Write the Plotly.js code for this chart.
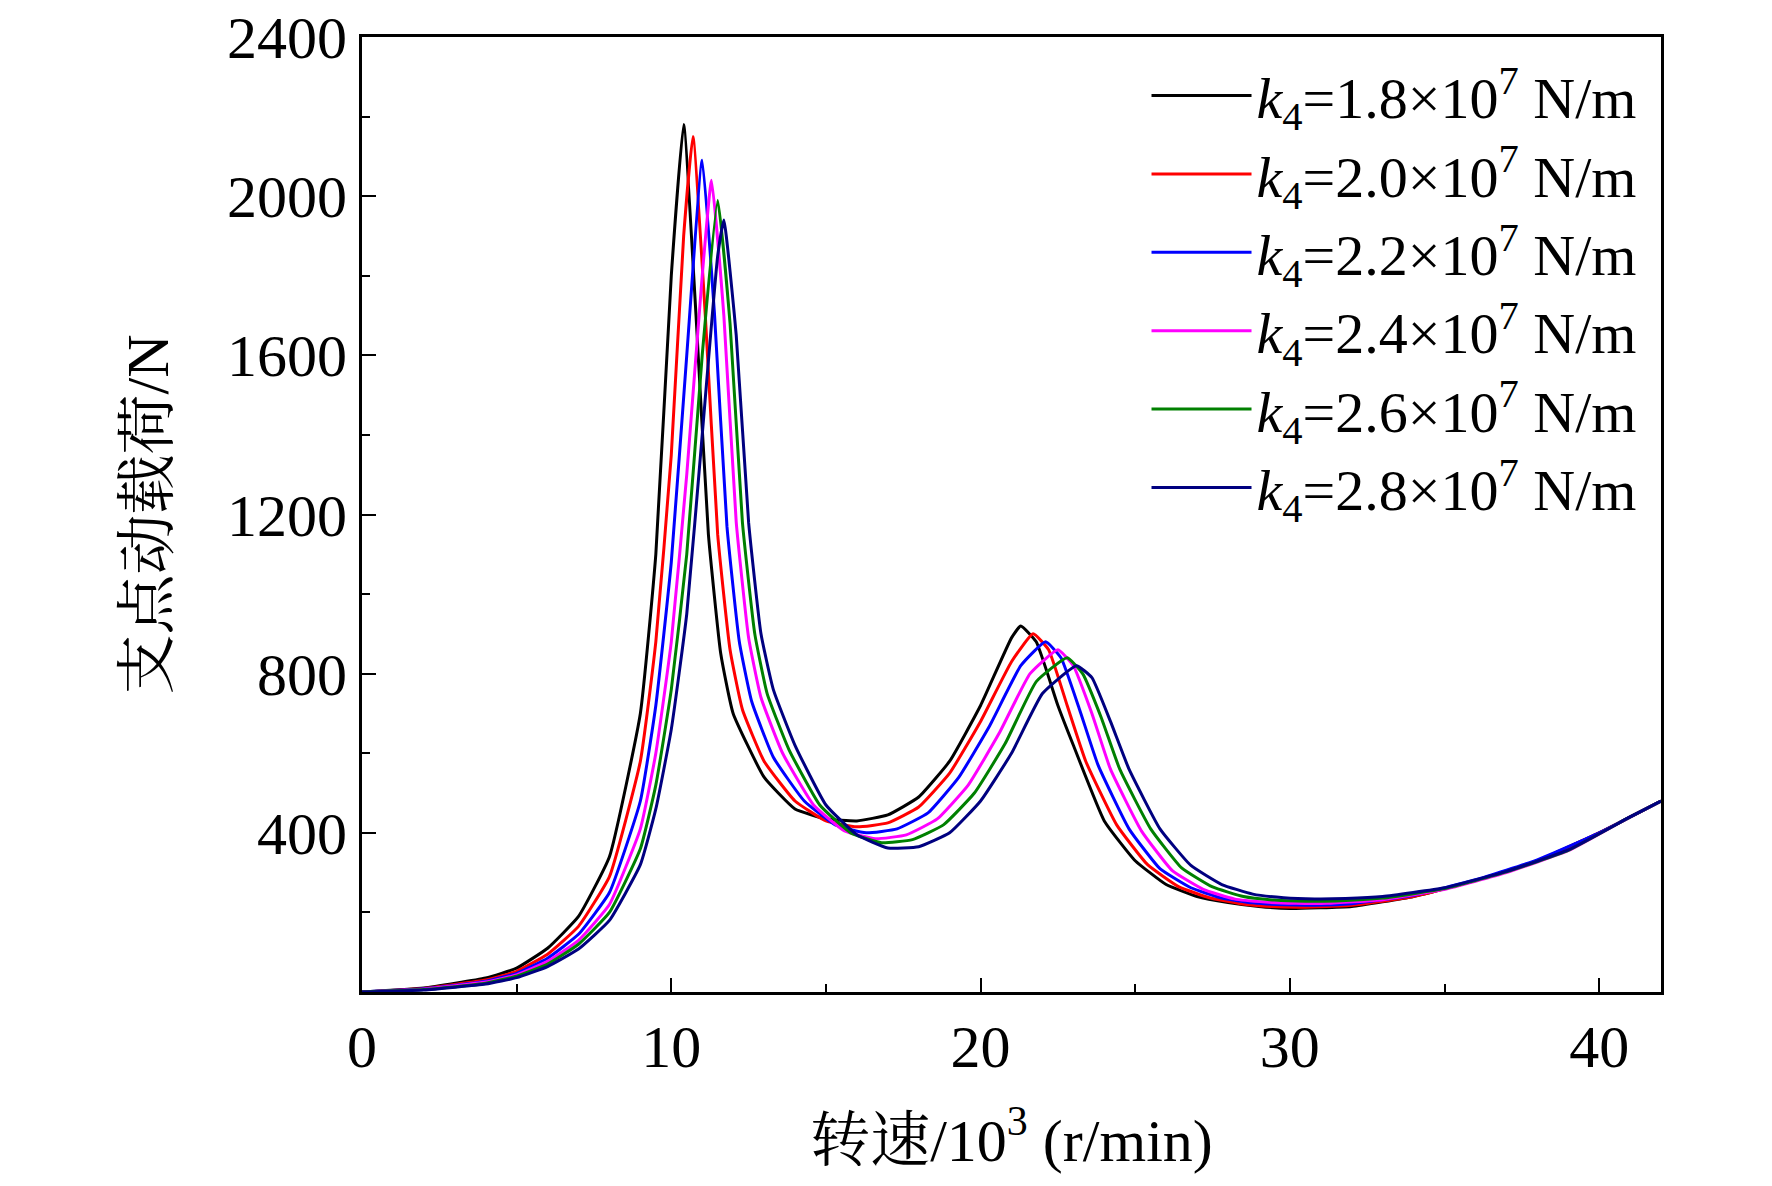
<!DOCTYPE html>
<html>
<head>
<meta charset="utf-8">
<script src="https://cdn.plot.ly/plotly-3.0.1.min.js"></script>
<style>body{margin:0;background:#fff}#plot{width:1772px;height:1186px}</style>
</head>
<body>
<div id="plot"></div>
<script>
var names = ['1.8', '2.0', '2.2', '2.4', '2.6', '2.8'];
var colors = ['#000000', '#ff0000', '#0000ff', '#ff00ff', '#008000', '#000080'];

var x1 = [0,2,4,5,6,7,8,9,9.5,10,10.4,10.8,11.2,11.6,12,13,14,15,16,17,18,19,20,21,21.3,21.8,22.5,23,24,25,26,27,28,29,30,32,34,36,38,40,42];
var y1 = [0,10,35,60,110,190,340,700,1100,1800,2180,1700,1150,850,700,540,460,435,430,445,490,580,720,890,920,880,720,620,430,330,270,240,225,215,210,215,240,280,330,400,480];

var x2 = [0,2,4,5,6,7,8,9,9.5,10,10.4,10.7,11.1,11.5,11.9,12.3,13,14,15,16,17,18,19,20,21,21.7,22.2,22.8,23.4,24.4,25.4,26.4,27.4,28.4,29.4,30.4,32,34,36,38,40,42];
var y2 = [0,9,30,52,95,165,290,580,880,1350,1900,2150,1700,1150,860,710,580,480,430,415,425,465,550,680,830,900,860,720,580,420,320,265,237,222,215,213,218,240,280,330,400,480];

var x3 = [0,2,4,5,6,7,8,9,9.5,10,10.5,11.0,11.4,11.8,12.2,12.6,13.3,14.3,15.3,16.3,17.3,18.3,19.3,20.3,21.3,22.1,22.6,23.2,23.8,24.8,25.8,26.8,27.8,28.8,29.8,30.8,32,34,36,38,40,42];
var y3 = [0,8,27,47,85,145,250,480,720,1080,1600,2090,1700,1170,880,730,590,480,420,400,410,450,540,670,820,880,840,710,570,410,310,262,236,224,219,218,222,243,282,332,400,480];

var x4 = [0,2,4,5,6,7,8,9,9.5,10,10.5,11,11.3,11.7,12.1,12.5,12.9,13.6,14.6,15.6,16.6,17.6,18.6,19.6,20.6,21.6,22.5,23,23.6,24.2,25.2,26.2,27.2,28.2,29.2,30.2,31.2,33,35,37,39,41,42];
var y4 = [0,7,25,43,77,130,220,410,600,880,1300,1800,2040,1700,1180,890,740,600,470,405,385,395,435,520,650,800,860,820,700,560,405,305,258,234,226,223,223,232,258,300,355,440,480];

var x5 = [0,2,4,5,6,7,8,9,9.5,10,10.5,11,11.5,11.9,12.3,12.7,13.1,13.8,14.8,15.8,16.8,17.8,18.8,19.8,20.8,21.8,22.8,23.3,23.9,24.5,25.5,26.5,27.5,28.5,29.5,30.5,31.5,33,35,37,39,41,42];
var y5 = [0,6,22,40,70,120,200,360,520,760,1100,1600,1990,1680,1180,900,750,610,470,400,375,383,420,500,625,780,840,800,690,560,410,312,264,240,231,228,229,236,260,302,356,440,480];

var x6 = [0,2,4,5,6,7,8,9,9.5,10,10.5,11,11.5,11.7,12.1,12.5,12.9,13.3,14,15,16,17,18,19,20,21,22,23.1,23.6,24.2,24.8,25.8,26.8,27.8,28.8,29.8,30.8,31.8,33,35,37,39,41,42];
var y6 = [0,5,20,36,64,108,180,320,460,660,950,1400,1850,1940,1650,1180,900,760,620,470,395,362,365,400,480,600,750,820,790,680,560,410,318,270,246,237,234,235,240,262,303,357,440,480];

var xs = [x1, x2, x3, x4, x5, x6];
var ys = [y1, y2, y3, y4, y5, y6];

var serif = 'Liberation Serif, Times New Roman, serif';
var data = [];
for (var i = 0; i < 6; i++) {
  data.push({
    type: 'scatter',
    mode: 'lines',
    x: xs[i],
    y: ys[i],
    name: '<i>k</i><sub>4</sub>=' + names[i] + '×10<sup>7</sup> N/m',
    line: {color: colors[i], width: 3, shape: 'spline', smoothing: 0.4}
  });
}

var layout = {
  width: 1772,
  height: 1186,
  paper_bgcolor: '#ffffff',
  plot_bgcolor: '#ffffff',
  margin: {l: 362, r: 111, t: 37, b: 194},
  font: {family: serif, size: 60, color: '#000'},
  showlegend: true,
  legend: {
    x: 0.985, y: 0.985, xanchor: 'right', yanchor: 'top',
    bgcolor: 'rgba(0,0,0,0)', font: {family: serif, size: 58},
    tracegroupgap: 0, itemwidth: 100
  },
  xaxis: {
    range: [0, 42], tickvals: [0, 10, 20, 30, 40],
    ticks: 'inside', ticklen: 14, tickwidth: 2, tickcolor: '#000',
    minor: {tickvals: [5, 15, 25, 35], ticks: 'inside', ticklen: 8, tickwidth: 2, tickcolor: '#000'},
    showline: true, linewidth: 3, linecolor: '#000', mirror: true,
    showgrid: false, zeroline: false,
    title: {text: '转速/10<sup>3</sup> (r/min)', font: {family: serif + ', Noto Serif CJK SC, Noto Sans CJK SC', size: 60}, standoff: 40}
  },
  yaxis: {
    range: [0, 2400], tickvals: [400, 800, 1200, 1600, 2000, 2400],
    ticks: 'inside', ticklen: 14, tickwidth: 2, tickcolor: '#000',
    minor: {tickvals: [200, 600, 1000, 1400, 1800, 2200], ticks: 'inside', ticklen: 8, tickwidth: 2, tickcolor: '#000'},
    showline: true, linewidth: 3, linecolor: '#000', mirror: true,
    showgrid: false, zeroline: false,
    title: {text: '支点动载荷/N', font: {family: serif + ', Noto Serif CJK SC, Noto Sans CJK SC', size: 60}, standoff: 40}
  }
};

Plotly.newPlot('plot', data, layout, {displayModeBar: false});
</script>
</body>
</html>
